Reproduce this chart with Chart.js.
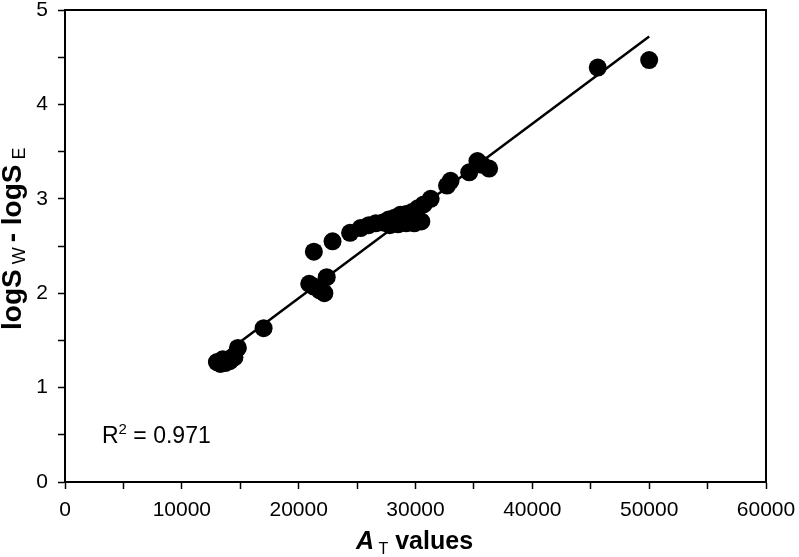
<!DOCTYPE html>
<html>
<head>
<meta charset="utf-8">
<script src="https://cdn.jsdelivr.net/npm/chart.js@4"></script>
<style>
  body { margin: 0; background: #fff; }
  canvas { display: block; }
</style>
</head>
<body>
<canvas id="chart" width="799" height="557"></canvas>
<script>
// A_T values (x) and logS_W - logS_E (y)
const atValues = [13000, 13300, 13700, 14100, 14500, 14800, 13500, 17000,
  20900, 21300, 21800, 22200, 22400, 21300, 22900, 24400,
  25300, 26000, 26600, 27200, 27700, 28200, 28700, 29200, 29700, 30200, 30700,
  27800, 28500, 29200, 29900, 30500, 31300, 32700, 33000, 34600,
  35300, 35700, 36300, 45600, 50000];
const logDiff = [1.27, 1.25, 1.26, 1.28, 1.32, 1.42, 1.30, 1.63,
  2.10, 2.07, 2.03, 2.00, 2.17, 2.44, 2.55, 2.64,
  2.69, 2.72, 2.74, 2.75, 2.78, 2.80, 2.83, 2.84, 2.86, 2.90, 2.94,
  2.72, 2.73, 2.74, 2.74, 2.76, 3.00, 3.14, 3.19, 3.28,
  3.40, 3.36, 3.32, 4.39, 4.47];

// regression line ends
const fitX = [13000, 50000];
const fitY = [1.30, 4.72];

const rSquared = '0.971';

const fam = 'Liberation Sans, Arial, sans-serif';
const tickFont = { family: fam, size: 21 };

// draws pieces of text with sub/superscripts one after another
function drawPieces(ctx, pieces) {
  let x = 0;
  pieces.forEach(p => {
    ctx.font = p.font;
    ctx.fillText(p.text, x, p.dy || 0);
    x += ctx.measureText(p.text).width;
  });
}

const extras = {
  id: 'extras',
  afterDraw(chart) {
    const { ctx, chartArea: a } = chart;
    ctx.save();
    ctx.strokeStyle = '#000';
    ctx.lineWidth = 2;
    ctx.strokeRect(a.left, a.top, a.right - a.left, a.bottom - a.top);

    ctx.fillStyle = '#000';
    ctx.textBaseline = 'alphabetic';
    ctx.textAlign = 'left';

    // y title
    ctx.save();
    ctx.translate(21, 330);
    ctx.rotate(-Math.PI / 2);
    drawPieces(ctx, [
      { text: 'logS', font: 'bold 28px ' + fam },
      { text: ' W ', font: '18px ' + fam, dy: 4 },
      { text: '- logS', font: 'bold 28px ' + fam },
      { text: ' E', font: '18px ' + fam, dy: 4 }
    ]);
    ctx.restore();

    // x title
    ctx.save();
    ctx.translate(356, 549);
    drawPieces(ctx, [
      { text: 'A', font: 'italic bold 25px ' + fam },
      { text: ' T', font: '16px ' + fam, dy: 5 },
      { text: ' values', font: 'bold 25px ' + fam }
    ]);
    ctx.restore();

    // R squared
    ctx.save();
    ctx.translate(102, 443);
    drawPieces(ctx, [
      { text: 'R', font: '23px ' + fam },
      { text: '2', font: '15px ' + fam, dy: -9 },
      { text: ' = ' + rSquared, font: '23px ' + fam }
    ]);
    ctx.restore();
    ctx.restore();
  }
};

const points = atValues.map((x, i) => ({ x: x, y: logDiff[i] }));
const fitLine = fitX.map((x, i) => ({ x: x, y: fitY[i] }));

new Chart(document.getElementById('chart').getContext('2d'), {
  type: 'scatter',
  data: {
    datasets: [{
      data: fitLine,
      showLine: true,
      borderColor: '#000',
      borderWidth: 2.5,
      pointRadius: 0
    }, {
      data: points,
      backgroundColor: '#000',
      borderColor: '#000',
      pointRadius: 9,
      borderWidth: 0
    }]
  },
  options: {
    responsive: false,
    animation: false,
    layout: { padding: { top: 10, right: 33, left: 0, bottom: 0 } },
    plugins: { legend: { display: false }, tooltip: { enabled: false } },
    scales: {
      x: {
        type: 'linear',
        min: 0,
        max: 60000,
        afterFit: s => {
          s.height = 75;
          s.paddingLeft = 0;
          s.paddingRight = 0;
        },
        border: { color: '#000', width: 2 },
        grid: { drawOnChartArea: false, tickLength: 7, tickColor: '#000', tickWidth: 1.5 },
        ticks: {
          stepSize: 5000,
          autoSkip: false,
          maxRotation: 0,
          padding: 9,
          color: '#000',
          font: tickFont,
          callback: v => (v % 10000 === 0 ? String(v) : '')
        }
      },
      y: {
        min: 0,
        max: 5,
        afterFit: s => {
          s.width = 65;
          s.paddingTop = 0;
          s.paddingBottom = 0;
        },
        border: { color: '#000', width: 2 },
        grid: { drawOnChartArea: false, tickLength: 7, tickColor: '#000', tickWidth: 1.5 },
        ticks: {
          stepSize: 0.5,
          autoSkip: false,
          padding: 10,
          color: '#000',
          font: tickFont,
          callback: v => (v % 1 === 0 ? String(v) : '')
        }
      }
    }
  },
  plugins: [extras]
});
</script>
</body>
</html>
